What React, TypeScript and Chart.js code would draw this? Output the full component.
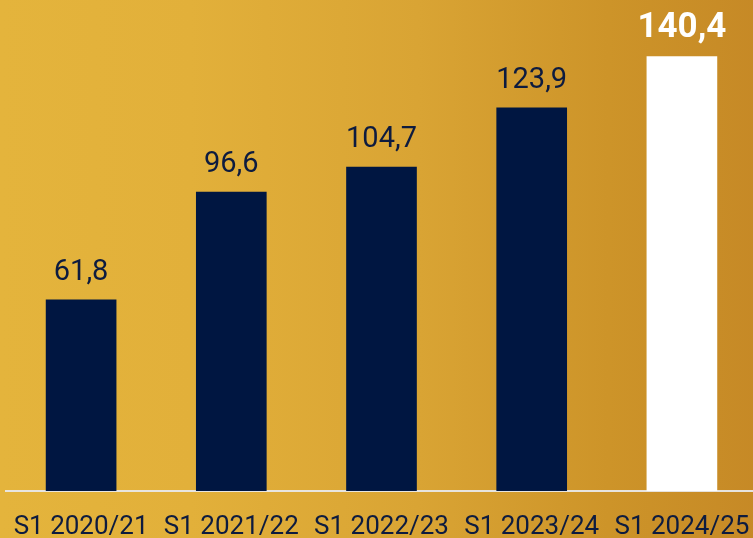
import React, { useEffect, useRef } from "react";
import { Chart, registerables } from "chart.js";

Chart.register(...registerables);

const categories = ["S1 2020/21", "S1 2021/22", "S1 2022/23", "S1 2023/24", "S1 2024/25"];
const values = [61.8, 96.6, 104.7, 123.9, 140.4];
const valueLabels = ["61,8", "96,6", "104,7", "123,9", "140,4"];
const highlightIndex = 4;

const NAVY = "#001641";
const TEXT_NAVY = "#0d1b3f";
const FONT = "Roboto, 'Open Sans', sans-serif";

const valueLabelPlugin = {
  id: "valueLabels",
  afterDatasetsDraw(chart: any) {
    const ctx = chart.ctx;
    const meta = chart.getDatasetMeta(0);
    ctx.save();
    ctx.textAlign = "center";
    ctx.textBaseline = "alphabetic";
    meta.data.forEach((bar: any, i: number) => {
      const hi = i === highlightIndex;
      ctx.font = hi ? `bold 35px ${FONT}` : `29px ${FONT}`;
      ctx.fillStyle = hi ? "#ffffff" : TEXT_NAVY;
      ctx.fillText(valueLabels[i], bar.x, bar.y - 20);
    });
    ctx.restore();
  },
};

export default function App() {
  const ref = useRef<HTMLCanvasElement | null>(null);

  useEffect(() => {
    document.documentElement.style.overflow = "hidden";
    document.body.style.margin = "0";
    document.body.style.overflow = "hidden";
    const canvas = ref.current;
    if (!canvas) return;
    const chart = new Chart(canvas, {
      type: "bar",
      data: {
        labels: categories,
        datasets: [
          {
            data: values,
            backgroundColor: values.map((_, i) => (i === highlightIndex ? "#ffffff" : NAVY)),
            barThickness: 70,
            borderWidth: 0,
          },
        ],
      },
      options: {
        animation: false,
        responsive: false,
        maintainAspectRatio: false,
        devicePixelRatio: 1,
        layout: { padding: { left: 6, right: 3, top: 27, bottom: 0 } },
        plugins: {
          legend: { display: false },
          tooltip: { enabled: false },
          title: { display: false },
        },
        scales: {
          x: {
            grid: { display: false, drawTicks: false },
            border: { display: true, color: "rgba(232,232,232,0.95)", width: 2 },
            ticks: {
              color: TEXT_NAVY,
              font: { family: FONT, size: 26 },
              padding: 21,
              maxRotation: 0,
              autoSkip: false,
            },
            afterFit: (scale: any) => {
              scale.height = 47;
              scale.paddingLeft = 0;
              scale.paddingRight = 0;
            },
          },
          y: {
            display: false,
            min: 0,
            max: 150,
          },
        },
      },
      plugins: [valueLabelPlugin],
    });
    return () => chart.destroy();
  }, []);

  return (
    <div
      style={{
        position: "fixed",
        left: 0,
        top: 0,
        width: 760,
        height: 538,
        background:
          "linear-gradient(90deg, #e4b43c 0%, #e2b03a 25%, #d9a434 55%, #cd9429 80%, #c68926 100%)",
      }}
    >
      <canvas ref={ref} width={760} height={538} style={{ width: 760, height: 538, display: "block" }} />
    </div>
  );
}
